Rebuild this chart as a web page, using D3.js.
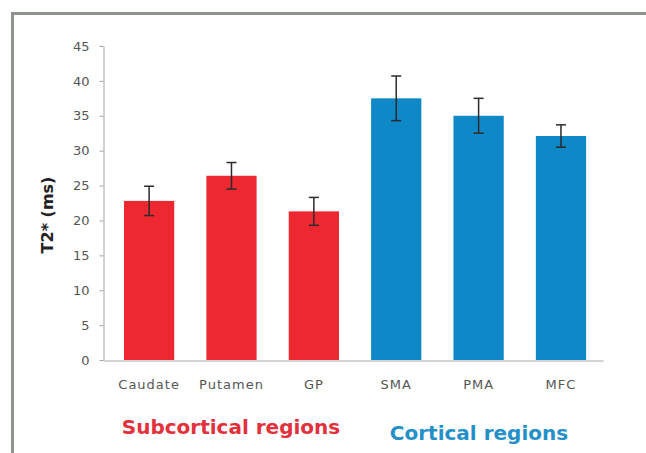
<!DOCTYPE html>
<html>
<head>
<meta charset="utf-8">
<script src="https://cdn.jsdelivr.net/npm/d3@7"></script>
<style>
  html, body { margin: 0; padding: 0; background: #fff; }
  svg { display: block; }
</style>
</head>
<body>
<script>
// T2* relaxation time by brain region (mean ± error)
const regions = ["Caudate", "Putamen", "GP", "SMA", "PMA", "MFC"];
const t2Values = [22.8, 26.4, 21.3, 37.5, 35.0, 32.1];
const t2Errors = [2.1, 1.9, 2.0, 3.2, 2.5, 1.6];
const regionGroup = ["sub", "sub", "sub", "cort", "cort", "cort"];
const yTicks = [0, 5, 10, 15, 20, 25, 30, 35, 40, 45];
const groupLabels = ["Subcortical regions", "Cortical regions"];

const W = 646, H = 453;
const colors = { sub: "#ee2830", cort: "#0f88c8" };

const svg = d3.select("body").append("svg")
  .attr("width", W).attr("height", H);

// panel frame (left and top edges)
svg.append("path")
  .attr("d", "M12.5,453 L12.5,13.5 L646,13.5")
  .attr("fill", "none")
  .attr("stroke", "#8d928d")
  .attr("stroke-width", 3);

const x = d3.scaleBand()
  .domain(regions)
  .range([103, 603])
  .paddingInner(0.39)
  .paddingOuter(0.23)
  .align(0.554);

const y = d3.scaleLinear()
  .domain([0, 45])
  .range([360, 46]);

// bars
svg.selectAll("rect.bar")
  .data(regions)
  .join("rect")
  .attr("class", "bar")
  .attr("x", d => x(d))
  .attr("width", x.bandwidth())
  .attr("y", (d, i) => y(t2Values[i]))
  .attr("height", (d, i) => y(0) - y(t2Values[i]))
  .attr("fill", (d, i) => colors[regionGroup[i]]);

// error bars
const err = svg.append("g")
  .attr("stroke", "#2b2b2b")
  .attr("stroke-width", 1.5);
regions.forEach((r, i) => {
  const cx = x(r) + x.bandwidth() / 2;
  const top = y(t2Values[i] + t2Errors[i]);
  const bot = y(t2Values[i] - t2Errors[i]);
  err.append("line").attr("x1", cx).attr("x2", cx).attr("y1", top).attr("y2", bot);
  err.append("line").attr("x1", cx - 5).attr("x2", cx + 5).attr("y1", top).attr("y2", top);
  err.append("line").attr("x1", cx - 5).attr("x2", cx + 5).attr("y1", bot).attr("y2", bot);
});

// y axis
const yAxis = svg.append("g")
  .attr("transform", "translate(103.5,0)")
  .call(d3.axisLeft(y).tickValues(yTicks).tickSize(4).tickPadding(10).tickSizeOuter(0));
yAxis.select(".domain").attr("stroke", "#a6a6a6");
yAxis.selectAll(".tick line").attr("stroke", "#a6a6a6");
yAxis.selectAll(".tick text")
  .attr("fill", "#555")
  .style("font-family", "'DejaVu Sans', Verdana, sans-serif")
  .style("font-size", "13px");

// x axis
const xAxis = svg.append("g")
  .attr("transform", "translate(0,360.5)")
  .call(d3.axisBottom(x).tickSize(0).tickPadding(19).tickSizeOuter(0));
xAxis.select(".domain").attr("stroke", "#a6a6a6");
xAxis.selectAll(".tick text")
  .attr("fill", "#555")
  .style("font-family", "'DejaVu Sans', Verdana, sans-serif")
  .style("font-size", "13px")
  .style("letter-spacing", "1px");

// y axis title
svg.append("text")
  .attr("transform", "translate(53,215) rotate(-90)")
  .attr("text-anchor", "middle")
  .attr("fill", "#222")
  .style("font-family", "'DejaVu Sans', Verdana, sans-serif")
  .style("font-weight", "bold")
  .style("font-size", "16px")
  .text("T2* (ms)");

// group labels below the category axis
svg.append("text")
  .attr("x", 231).attr("y", 434)
  .attr("text-anchor", "middle")
  .attr("fill", "#e2303c")
  .style("font-family", "'DejaVu Sans', sans-serif")
  .style("font-weight", "bold")
  .style("font-size", "20px")
  .text(groupLabels[0]);
svg.append("text")
  .attr("x", 479).attr("y", 440)
  .attr("text-anchor", "middle")
  .attr("fill", "#2590c8")
  .style("font-family", "'DejaVu Sans', sans-serif")
  .style("font-weight", "bold")
  .style("font-size", "20px")
  .text(groupLabels[1]);
</script>
</body>
</html>
